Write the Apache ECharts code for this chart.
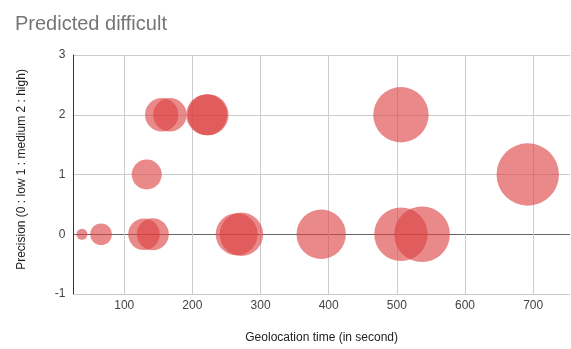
<!DOCTYPE html>
<html>
<head>
<meta charset="utf-8">
<script src="https://cdn.jsdelivr.net/npm/echarts@6/dist/echarts.min.js"></script>
<style>html,body{margin:0;padding:0;background:#fff}#c{width:571px;height:349px}</style>
</head>
<body>
<div id="c"></div>
<script>
// Geolocation time (s)
var times = [38, 66, 129, 142, 133, 155, 167, 221, 223, 265, 272, 389, 506, 537, 506, 692];
// Precision (0 low, 1 medium, 2 high)
var precision = [0, 0, 0, 0, 1, 2, 2, 2, 2, 0, 0, 0, 0, 0, 2, 1];
// Bubble size values
var sizes = [5.5, 10.8, 15.8, 16, 15, 16.7, 16.7, 20.5, 20.5, 21, 21.7, 24.7, 26.7, 27.8, 27.7, 31.2];
var yTicks = [-1, 0, 1, 2, 3];

var data = times.map(function (t, i) { return [t, precision[i], sizes[i]]; });

var chart = echarts.init(document.getElementById('c'), null, { renderer: 'canvas' });
var font = '"Liberation Sans", Arial, sans-serif';
chart.setOption({
  animation: false,
  backgroundColor: '#ffffff',
  textStyle: { fontFamily: font },
  title: {
    text: 'Predicted difficult',
    left: 15, top: 14, padding: 0,
    textStyle: { fontFamily: font, fontSize: 20, fontWeight: 'normal', color: '#757575' }
  },
  grid: { left: 73.3, right: 1, top: 55, bottom: 52.3, containLabel: false },
  xAxis: {
    type: 'value',
    min: 25.3, max: 754,
    splitNumber: 7,
    name: 'Geolocation time (in second)',
    nameLocation: 'middle',
    nameGap: 38,
    nameTextStyle: { fontFamily: font, fontSize: 12, color: '#222' },
    axisLine: { show: false, onZero: false },
    axisTick: { show: false },
    axisLabel: { showMinLabel: false, showMaxLabel: false, margin: 6, fontSize: 12, color: '#444', fontFamily: font },
    splitLine: { show: true, showMaxLine: false, lineStyle: { color: '#cccccc', width: 1 } }
  },
  yAxis: {
    type: 'value',
    min: yTicks[0], max: yTicks[yTicks.length - 1], interval: 1,
    name: 'Precision (0 : low 1 : medium 2 : high)',
    nameLocation: 'middle',
    nameGap: 46,
    nameTextStyle: { fontFamily: font, fontSize: 12, color: '#222', padding: [0, 0, 0, 10] },
    axisLine: { show: true, onZero: false, lineStyle: { color: '#333', width: 1 } },
    axisTick: { show: false },
    axisLabel: { margin: 8, fontSize: 12, color: '#444', fontFamily: font },
    splitLine: { show: true, lineStyle: { color: ['#cccccc', '#666666', '#cccccc', '#cccccc', '#cccccc'], width: 1 } }
  },
  series: [{
    type: 'scatter',
    data: data,
    symbolSize: function (v) { return v[2] * 2; },
    itemStyle: { color: '#db4040', opacity: 0.62 },
    emphasis: { disabled: true }
  }]
});
</script>
</body>
</html>
